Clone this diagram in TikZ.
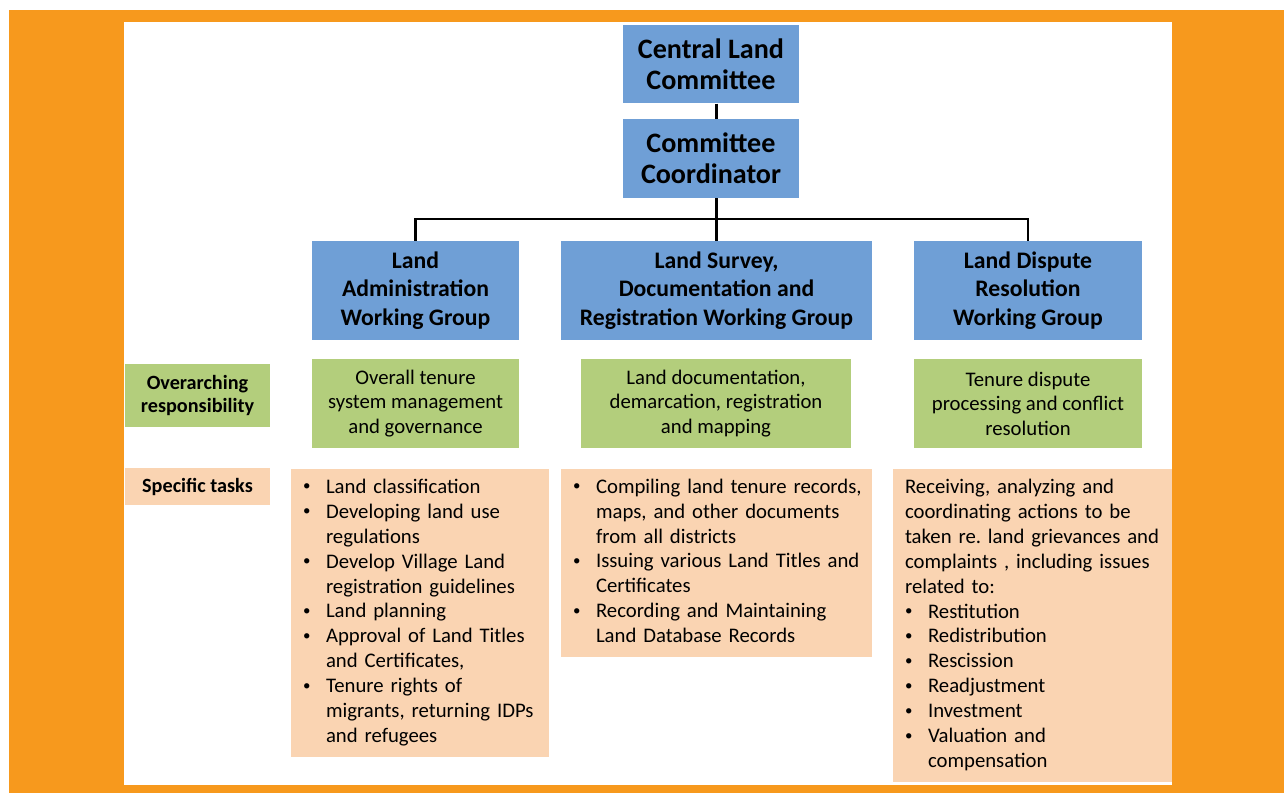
\documentclass[tikz,border=0pt]{standalone}
\usepackage{fontspec}
\setmainfont{Carlito}
\frenchspacing
\definecolor{framebg}{HTML}{F7991D}
\definecolor{wgblue}{HTML}{6F9FD6}
\definecolor{respgreen}{HTML}{B3CE7C}
\definecolor{taskpeach}{HTML}{FAD4B2}
\newcommand{\bul}{\makebox[0.46cm][l]{\raisebox{0.25ex}{\fontsize{8.5}{8.5}\selectfont\textbullet}}}
\newcommand{\cont}{\hspace*{0.46cm}}
\newenvironment{tasklist}{\begin{tabular}{@{}l@{}}}{\end{tabular}}

\begin{document}
\begin{tikzpicture}[x=0.02cm, y=-0.02cm]

      \tikzset{headbox/.style={fill=wgblue, align=center, minimum width=3.52cm, minimum height=1.57cm, font=\bfseries\fontsize{16}{17.6}\selectfont},
               wgbox/.style={fill=wgblue, align=center, minimum height=1.98cm, font=\bfseries\fontsize{13.5}{16.2}\selectfont},
               respbox/.style={fill=respgreen, align=center, minimum height=1.78cm, font=\fontsize{11.8}{14}\selectfont},
               taskbox/.style={fill=taskpeach, align=left, inner xsep=0.24cm, font=\fontsize{11.8}{14.2}\selectfont},
               rowlabel/.style={align=center, minimum width=2.9cm, font=\bfseries\fontsize{11.5}{13.6}\selectfont},
               conn/.style={line width=1.6pt}}
%% Frame
      	\fill[framebg] (9,10) rectangle (1284,793);
      	\fill[white] (124,22) rectangle (1172,785);
      	\useasboundingbox (0,0) rectangle (1284,793);
%% Committee
      	\node[headbox] (clc) at (711,64) {Central Land\\Committee};
      	\node[headbox] (cc) at (711,158.5) {Committee\\Coordinator};
%% Working groups
      	\node[wgbox, minimum width=4.14cm] (la) at (415.5,290.5) {Land\\Administration\\Working Group};
      	\node[wgbox, minimum width=6.22cm] (lsd) at (716.5,290.5) {Land Survey,\\Documentation and\\Registration Working Group};
      	\node[wgbox, minimum width=4.56cm] (ld) at (1028,290.5) {Land Dispute\\Resolution\\Working Group};
%% Responsibilities
      	\node[rowlabel, fill=respgreen, minimum height=1.26cm] (resp) at (197.5,395.5) {Overarching\\responsibility};
      	\node[respbox, minimum width=4.14cm] (la-resp) at (415.5,403.5) {Overall tenure\\system management\\and governance};
      	\node[respbox, minimum width=5.4cm] (lsd-resp) at (716,403.5) {Land documentation,\\demarcation, registration\\and mapping};
      	\node[respbox, minimum width=4.56cm] (ld-resp) at (1028,403.5) {Tenure dispute\\processing and conflict\\resolution};
%% Tasks
      	\node[rowlabel, fill=taskpeach, minimum height=0.74cm] (tasks) at (197.5,486.5) {Specific tasks};
      	\node[taskbox, text width=4.68cm, minimum height=5.76cm] (la-tasks) at (420,613) {\begin{tasklist}
      	  \bul Land classification\\
      	  \bul Developing land use\\
      	  \cont regulations\\
      	  \bul Develop Village Land\\
      	  \cont registration guidelines\\
      	  \bul Land planning\\
      	  \bul Approval of Land Titles\\
      	  \cont and Certificates,\\
      	  \bul Tenure rights of\\
      	  \cont migrants, returning IDPs\\
      	  \cont and refugees
      	\end{tasklist}};
      	\node[taskbox, text width=5.74cm, minimum height=3.76cm] (lsd-tasks) at (716.5,563) {\begin{tasklist}
      	  \bul Compiling land tenure records,\\
      	  \cont maps, and other documents\\
      	  \cont from all districts\\
      	  \bul Issuing various Land Titles and\\
      	  \cont Certificates\\
      	  \bul Recording and Maintaining\\
      	  \cont Land Database Records
      	\end{tasklist}};
      	\node[taskbox, text width=5.1cm, minimum height=6.26cm] (ld-tasks) at (1032.5,625.5) {\begin{tasklist}
      	  Receiving, analyzing and\\
      	  coordinating actions to be\\
      	  taken re. land grievances and\\
      	  complaints , including issues\\
      	  related to:\\
      	  \bul Restitution\\
      	  \bul Redistribution\\
      	  \bul Rescission\\
      	  \bul Readjustment\\
      	  \bul Investment\\
      	  \bul Valuation and\\
      	  \cont compensation
      	\end{tasklist}};
%% Connectors
      	\coordinate (bus) at (716.5,219);
		\draw[conn] (clc.south -| lsd.north) -- (cc.north -| lsd.north);
		\draw[conn] (cc.south -| lsd.north) -- (lsd.north);
		\draw[conn] (la.north) |- (bus) -| (ld.north);

\end{tikzpicture}
\end{document}
